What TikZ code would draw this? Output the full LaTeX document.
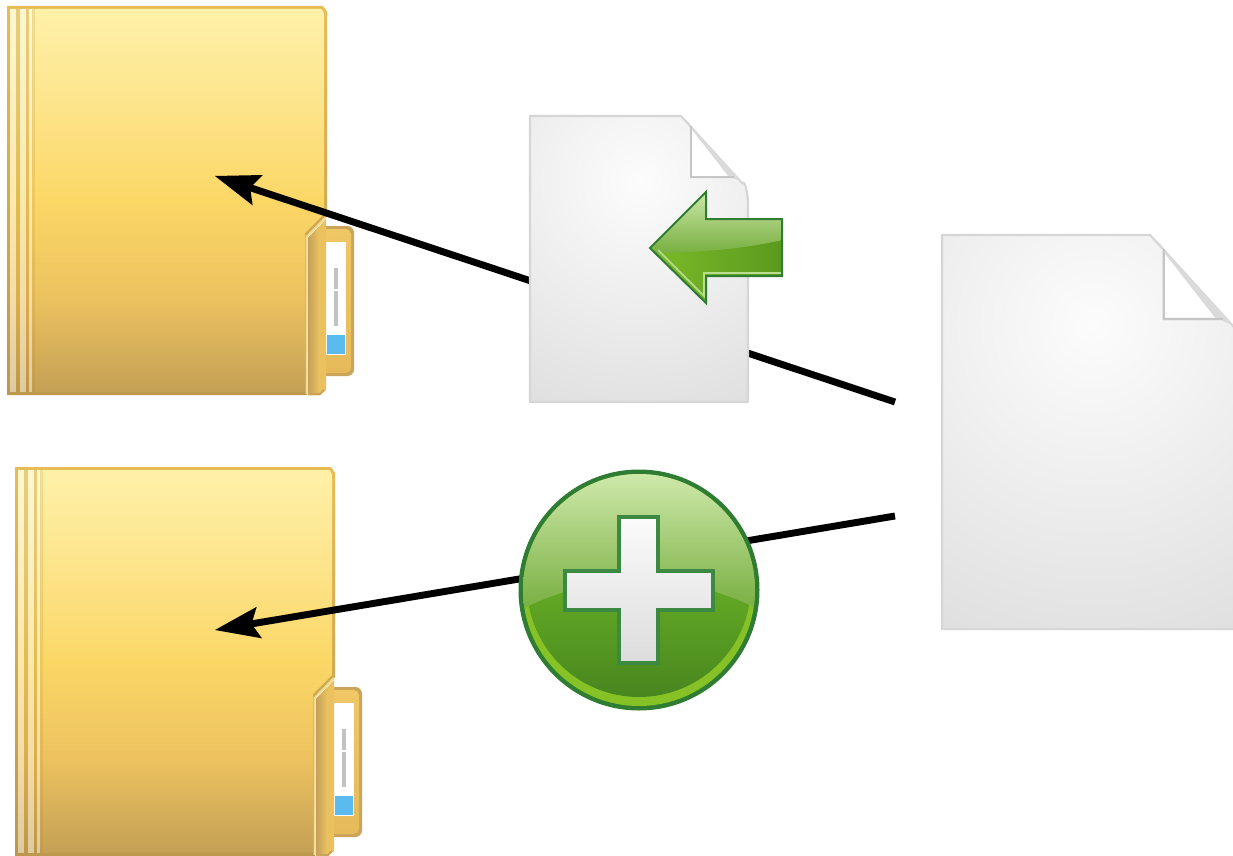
\documentclass[tikz,border=0pt]{standalone}
\usetikzlibrary{arrows.meta}
\definecolor{docA}{HTML}{FCFCFC}
\definecolor{docB}{HTML}{DFDFDF}
\definecolor{docEdge}{HTML}{D6D6D6}
\definecolor{foldBand}{HTML}{DADADA}
\definecolor{foldEdge}{HTML}{C6C6C6}
\definecolor{folTop}{HTML}{FEF1A8}
\definecolor{folUp}{HTML}{FDE48B}
\definecolor{folMid}{HTML}{FBD766}
\definecolor{folLow}{HTML}{EDC25F}
\definecolor{folBot}{HTML}{C4A055}
\definecolor{edgeTop}{HTML}{E8BC55}
\definecolor{edgeBot}{HTML}{BC984E}
\definecolor{tabTop}{HTML}{F0C765}
\definecolor{tabBot}{HTML}{E6BA5A}
\definecolor{tabEdge}{HTML}{CBA45A}
\definecolor{flapDark}{HTML}{C4A05A}
\definecolor{flapLite}{HTML}{EBC160}
\definecolor{flapGlow}{HTML}{F3DA92}
\definecolor{stripeTan}{HTML}{B8862B}
\definecolor{tagBlue}{HTML}{5CBBEE}
\definecolor{tagInk}{HTML}{C2C2C2}
\definecolor{grnEdge}{HTML}{2F7D33}
\definecolor{grnLime}{HTML}{86C226}
\definecolor{grnMidA}{HTML}{62A924}
\definecolor{grnMidB}{HTML}{47851F}
\definecolor{glossA}{HTML}{CFE9AB}
\definecolor{glossB}{HTML}{78AF41}
\definecolor{arrowL}{HTML}{7CBA29}
\definecolor{arrowR}{HTML}{5B991E}
\definecolor{arrowLine}{HTML}{B8DE8E}
\definecolor{plusA}{HTML}{FBFBFB}
\definecolor{plusB}{HTML}{DCDCDC}
\definecolor{plusEdge}{HTML}{3C8A42}
\pgfdeclareradialshading{docglow}{\pgfpointorigin}{color(0bp)=(docA); color(25bp)=(docB); color(50bp)=(docB)}
\pgfdeclareverticalshading{foldertone}{100bp}{color(0bp)=(folBot); color(25bp)=(folBot); color(37.5bp)=(folLow); color(50bp)=(folMid); color(62.5bp)=(folUp); color(75bp)=(folTop); color(100bp)=(folTop)}
\tikzset{
  connector/.style={line width=5.2pt,draw=black,line cap=butt},
  arrowed/.style={connector,-{Stealth[length=33.75pt,width=24pt,inset=6pt,line width=0pt]}},
  folderedge/.style={top color=edgeTop,bottom color=edgeBot},
  folderlite/.style={white,fill opacity=.45},
  foldertan/.style={stripeTan,fill opacity=.33},
  folder/.pic={
    % back tab
    \path[fill=tabEdge,rounded corners=5pt] (316,226) -- (354,226) -- (354,376) -- (316,376) -- cycle;
    \shade[top color=tabTop,bottom color=tabBot,rounded corners=4pt] (316,229) -- (351,229) -- (351,373) -- (316,373) -- cycle;
    \fill[white] (325,242) rectangle (346,355);
    \fill[tagBlue] (327,335) rectangle (345,354);
    \fill[tagInk] (334,268) rectangle (338,289);
    \fill[tagInk] (334,291) rectangle (338,326);
    % body silhouette
    \shade[folderedge] (7,6) -- (322,6) to[out=0,in=-90] (327,11) -- (327,216)
      -- (307,236) -- (307,395) -- (7,395) -- cycle;
    \path[shading=foldertone] (10,9) -- (321,9) to[out=0,in=-90] (324,13) -- (324,214)
      -- (305,233) -- (305,392) -- (10,392) -- cycle;
    % binder stripes
    \fill[folderlite] (10,9) rectangle (16,392);
    \fill[foldertan] (16,9) rectangle (20,392);
    \fill[folderlite] (20,9) rectangle (26,392);
    \fill[foldertan] (26,9) rectangle (29,392);
    \fill[folderlite] (29,9) rectangle (32,392);
    \fill[foldertan,fill opacity=.18] (32,9) rectangle (35,392);
    % front flap
    \fill[flapLite] (308,395) -- (308,238) -- (326,219) -- (326,390) -- (320,395) -- cycle;
    \shade[left color=flapDark,right color=flapLite] (308,395) -- (308,238) -- (319,226.5) -- (319,395) -- cycle;
    \draw[tabEdge,line width=1.5pt] (308,394) -- (320,394) -- (324,390);
    \draw[flapGlow,line width=1.5pt,line join=round] (306.5,394) -- (306.5,237) -- (326,217);
  },
  docicon/.pic={
    \begin{scope}
      \clip (0,0) -- (151,0) -- (212,67) to[out=45,in=-90] (218,82) -- (218,286) -- (0,286) -- cycle;
      \path[shading=docglow] (110,65) circle [radius=250];
    \end{scope}
    \draw[docEdge,line width=1.6pt,line join=round] (0,0) -- (151,0) -- (212,67) to[out=45,in=-90] (218,82) -- (218,286) -- (0,286) -- cycle;
    \fill[foldBand] (151,0) -- (212,66) -- (203,62) -- (160,62) -- (160,8) -- cycle;
    \fill[white] (162,14) -- (162,60) -- (198,60) -- cycle;
    \draw[foldEdge,line width=1.4pt] (161,10) -- (161,61) -- (204,61);
  }
}
\begin{document}
\begin{tikzpicture}[x=0.75pt,y=-0.75pt]
  \useasboundingbox (0,0) rectangle (1233,856);
  \clip (0,0) rectangle (1233,856);
  \fill[white] (0,0) rectangle (1233,856);

  \pic (folderA) at (0,0) {folder};
  \pic (folderB) at (8,461) {folder};

  \coordinate (srcA) at (895,402);
  \coordinate (srcB) at (895,516);
  \coordinate (dstA) at (215,176);
  \coordinate (dstB) at (215,630);
  \draw[arrowed] (srcA) -- (dstA);
  \draw[arrowed] (srcB) -- (dstB);

  \pic (docSmall) at (530,116) {docicon};
  \pic[scale=1.378] (docBig) at (942,235) {docicon};

  % green arrow badge
  \begin{scope}
    \clip (650,248) -- (706,192) -- (706,219) -- (782,219) -- (782,276) -- (706,276) -- (706,303) -- cycle;
    \shade[left color=arrowL,right color=arrowR] (650,190) rectangle (782,305);
    \shade[top color=glossA,bottom color=glossB] (650,190) -- (782,190) -- (782,240)
      .. controls (740,250) and (690,253) .. (650,253) -- cycle;
    \draw[arrowLine,line width=1.2pt] (658,250) -- (704,296) -- (704,273) -- (782,273);
  \end{scope}
  \draw[grnEdge,line width=1.5pt,line join=miter] (650,248) -- (706,192) -- (706,219) -- (782,219) -- (782,276) -- (706,276) -- (706,303) -- cycle;

  % plus badge
  \fill[grnEdge] (639,590) circle [radius=120.5];
  \fill[grnLime] (639,590) circle [radius=116];
  \begin{scope}
    \clip (639,585) circle [radius=112];
    \shade[top color=grnMidA,bottom color=grnMidB] (520,590) rectangle (760,700);
  \end{scope}
  \begin{scope}
    \clip (639,590) circle [radius=116];
    \shade[top color=glossA,bottom color=glossB] (520,472) -- (760,472) -- (760,610)
      .. controls (710,585) and (670,580) .. (639,580)
      .. controls (610,580) and (570,585) .. (520,610) -- cycle;
  \end{scope}
  \shade[top color=plusA,bottom color=plusB] (619,517) -- (658,517) -- (658,571) -- (713,571) -- (713,610) -- (658,610) -- (658,663) -- (619,663) -- (619,610) -- (565,610) -- (565,571) -- (619,571) -- cycle;
  \draw[plusEdge,line width=2.5pt,line join=miter] (619,517) -- (658,517) -- (658,571) -- (713,571) -- (713,610) -- (658,610) -- (658,663) -- (619,663) -- (619,610) -- (565,610) -- (565,571) -- (619,571) -- cycle;
\end{tikzpicture}
\end{document}
